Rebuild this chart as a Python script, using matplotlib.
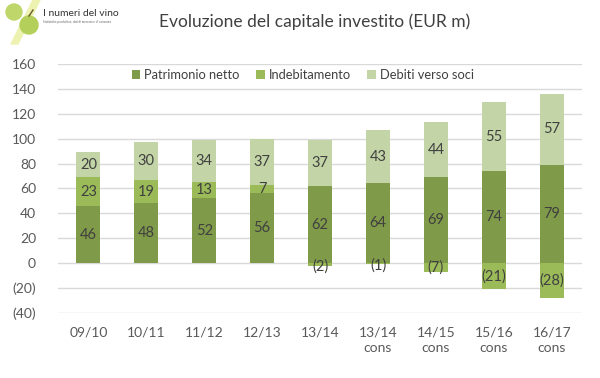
import numpy as np
import matplotlib.pyplot as plt
from matplotlib.patches import Circle, Polygon

plt.rcParams['font.family'] = ['Lato', 'DejaVu Sans']

# data
categories = ['09/10', '10/11', '11/12', '12/13', '13/14',
              '13/14\ncons', '14/15\ncons', '15/16\ncons', '16/17\ncons']
patrimonio = [46, 48, 52, 56, 62, 64, 69, 74, 79]
indebitamento = [23, 19, 13, 7, -2, -1, -7, -21, -28]
debiti_soci = [20, 30, 34, 37, 37, 43, 44, 55, 57]

c_patr = '#7F9A48'
c_indeb = '#9BBB59'
c_deb = '#C3D5A6'
txt = '#404040'


def fmt(v):
    return '(%d)' % abs(v) if v < 0 else '%d' % v


fig = plt.figure(figsize=(6, 3.78), dpi=100)
ax = fig.add_axes([0.097, 0.172, 0.873, 0.659])

x = np.arange(len(categories))
w = 0.41
patr = np.array(patrimonio)
ind = np.array(indebitamento)
deb = np.array(debiti_soci)

ind_bottom = np.where(ind > 0, patr, 0)
deb_bottom = patr + np.where(ind > 0, ind, 0)

ax.bar(x, patr, w, color=c_patr, label='Patrimonio netto', zorder=2)
ax.bar(x, ind, w, bottom=ind_bottom, color=c_indeb, label='Indebitamento', zorder=2)
ax.bar(x, deb, w, bottom=deb_bottom, color=c_deb, label='Debiti verso soci', zorder=2)

for i in range(len(x)):
    ax.text(x[i], patr[i] / 2, fmt(patr[i]), ha='center', va='center', color=txt, fontsize=10.5, zorder=3)
    ax.text(x[i], ind_bottom[i] + ind[i] / 2 - (1.5 if ind[i] > -5 and ind[i] < 0 else 0),
            fmt(ind[i]), ha='center', va='center', color=txt, fontsize=10.5, zorder=3)
    ax.text(x[i], deb_bottom[i] + deb[i] / 2, fmt(deb[i]), ha='center', va='center', color=txt, fontsize=10.5, zorder=3)

ax.set_ylim(-40, 160)
ax.set_xlim(-0.52, len(x) - 0.48)
yt = np.arange(-40, 161, 20)
ax.set_yticks(yt)
ax.set_yticklabels([fmt(v) for v in yt])
ax.set_xticks(x)
ax.set_xticklabels(categories, linespacing=1.3)
ax.tick_params(length=0, colors='#595959', labelsize=10)
ax.tick_params(axis='y', pad=16)
ax.tick_params(axis='x', pad=10)
ax.yaxis.grid(True, color='#D9D9D9', linewidth=1, zorder=0)
ax.set_axisbelow(True)
for s in ax.spines.values():
    s.set_visible(False)

leg = ax.legend(loc='center', bbox_to_anchor=(0.467, 0.955), ncol=3, frameon=False,
                handlelength=0.65, handleheight=0.65, handletextpad=0.3, columnspacing=1.3,
                fontsize=9.3)
for t in leg.get_texts():
    t.set_color(txt)

fig.text(0.525, 0.942, 'Evoluzione del capitale investito (EUR m)', ha='center', va='center',
         fontsize=12.5, color=txt)

# logo (pixel coordinates inside a small axes)
lax = fig.add_axes([0, 1 - 48 / 378, 120 / 600, 48 / 378])
lax.set_xlim(0, 120)
lax.set_ylim(48, 0)
lax.axis('off')
lax.add_patch(Polygon([[33, 0], [40, 0], [18, 44], [11, 44]], closed=True, color='#EEF2B0', zorder=1))
lax.add_patch(Circle((14, 12), 8, color='#BFD66A', zorder=2))
lax.add_patch(Circle((29, 25), 9, color='#B5D05A', zorder=2))
lax.plot([29, 33], [16, 10], color='#6B5A2A', lw=1, zorder=3)
lax.text(43, 14, 'I numeri del vino', fontsize=7.5, color='#333333', va='center', ha='left')
lax.text(43, 22, 'Statistiche produttive, dati di mercato e di consumo', fontsize=2.2,
         color='#666666', va='center', ha='left')

fig.savefig('out.png', dpi=100)
